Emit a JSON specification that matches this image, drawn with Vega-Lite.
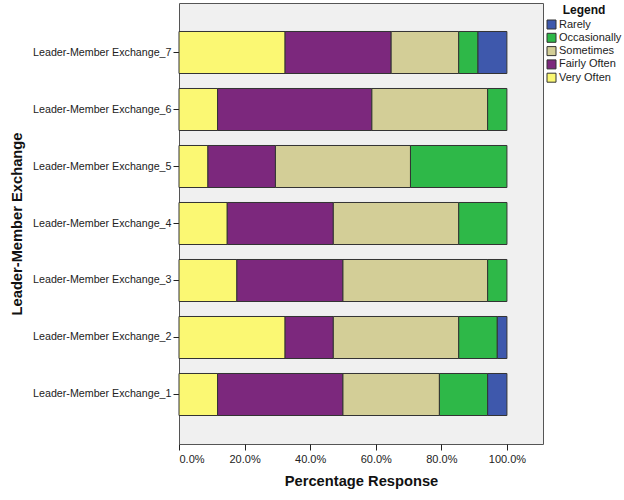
{
  "$schema": "https://vega.github.io/schema/vega-lite/v6.json",
  "autosize": {"type": "none"},
  "width": 364,
  "height": 441,
  "padding": {"left": 179, "top": 3, "right": 81, "bottom": 56},
  "background": "white",
  "config": {
    "font": "Liberation Sans",
    "view": {"fill": "#F0F0F0", "stroke": "#555555", "strokeWidth": 1},
    "axis": {"grid": false, "domainColor": "#555555", "tickColor": "#222222", "labelColor": "#222222", "labelFontSize": 11, "titleFontSize": 14.7, "titleFontWeight": "bold", "titleColor": "#111111", "tickSize": 6},
    "legend": {"padding": 2}
  },
  "data": {
    "values": [
      {"item": "Leader-Member Exchange_7", "response": "Very Often", "code": 5, "pct": 32.35},
      {"item": "Leader-Member Exchange_7", "response": "Fairly Often", "code": 4, "pct": 32.35},
      {"item": "Leader-Member Exchange_7", "response": "Sometimes", "code": 3, "pct": 20.59},
      {"item": "Leader-Member Exchange_7", "response": "Occasionally", "code": 2, "pct": 5.88},
      {"item": "Leader-Member Exchange_7", "response": "Rarely", "code": 1, "pct": 8.82},
      {"item": "Leader-Member Exchange_6", "response": "Very Often", "code": 5, "pct": 11.76},
      {"item": "Leader-Member Exchange_6", "response": "Fairly Often", "code": 4, "pct": 47.06},
      {"item": "Leader-Member Exchange_6", "response": "Sometimes", "code": 3, "pct": 35.29},
      {"item": "Leader-Member Exchange_6", "response": "Occasionally", "code": 2, "pct": 5.88},
      {"item": "Leader-Member Exchange_5", "response": "Very Often", "code": 5, "pct": 8.82},
      {"item": "Leader-Member Exchange_5", "response": "Fairly Often", "code": 4, "pct": 20.59},
      {"item": "Leader-Member Exchange_5", "response": "Sometimes", "code": 3, "pct": 41.18},
      {"item": "Leader-Member Exchange_5", "response": "Occasionally", "code": 2, "pct": 29.41},
      {"item": "Leader-Member Exchange_4", "response": "Very Often", "code": 5, "pct": 14.71},
      {"item": "Leader-Member Exchange_4", "response": "Fairly Often", "code": 4, "pct": 32.35},
      {"item": "Leader-Member Exchange_4", "response": "Sometimes", "code": 3, "pct": 38.24},
      {"item": "Leader-Member Exchange_4", "response": "Occasionally", "code": 2, "pct": 14.71},
      {"item": "Leader-Member Exchange_3", "response": "Very Often", "code": 5, "pct": 17.65},
      {"item": "Leader-Member Exchange_3", "response": "Fairly Often", "code": 4, "pct": 32.35},
      {"item": "Leader-Member Exchange_3", "response": "Sometimes", "code": 3, "pct": 44.12},
      {"item": "Leader-Member Exchange_3", "response": "Occasionally", "code": 2, "pct": 5.88},
      {"item": "Leader-Member Exchange_2", "response": "Very Often", "code": 5, "pct": 32.35},
      {"item": "Leader-Member Exchange_2", "response": "Fairly Often", "code": 4, "pct": 14.71},
      {"item": "Leader-Member Exchange_2", "response": "Sometimes", "code": 3, "pct": 38.24},
      {"item": "Leader-Member Exchange_2", "response": "Occasionally", "code": 2, "pct": 11.76},
      {"item": "Leader-Member Exchange_2", "response": "Rarely", "code": 1, "pct": 2.94},
      {"item": "Leader-Member Exchange_1", "response": "Very Often", "code": 5, "pct": 11.76},
      {"item": "Leader-Member Exchange_1", "response": "Fairly Often", "code": 4, "pct": 38.24},
      {"item": "Leader-Member Exchange_1", "response": "Sometimes", "code": 3, "pct": 29.41},
      {"item": "Leader-Member Exchange_1", "response": "Occasionally", "code": 2, "pct": 14.71},
      {"item": "Leader-Member Exchange_1", "response": "Rarely", "code": 1, "pct": 5.88}
    ]
  },
  "mark": {"type": "bar", "stroke": "#333333", "strokeWidth": 1},
  "encoding": {
    "y": {
      "field": "item", "type": "nominal",
      "sort": ["Leader-Member Exchange_7", "Leader-Member Exchange_6", "Leader-Member Exchange_5", "Leader-Member Exchange_4", "Leader-Member Exchange_3", "Leader-Member Exchange_2", "Leader-Member Exchange_1"],
      "scale": {"paddingInner": 0.263, "paddingOuter": 0.5},
      "axis": {"title": "Leader-Member Exchange", "labelFontSize": 10.7, "labelPadding": 2, "titlePadding": 8, "domain": false}
    },
    "x": {
      "field": "pct", "type": "quantitative", "stack": "zero",
      "scale": {"domain": [0, 111], "nice": false},
      "axis": {"title": "Percentage Response", "values": [0, 20, 40, 60, 80, 100], "labelExpr": "format(datum.value, '.1f') + '%'", "labelPadding": 3, "titlePadding": 9, "domain": false}
    },
    "order": {"field": "code", "sort": "descending"},
    "color": {
      "field": "response", "type": "nominal",
      "scale": {
        "domain": ["Rarely", "Occasionally", "Sometimes", "Fairly Often", "Very Often"],
        "range": ["#3E58AC", "#2EB848", "#D3CE97", "#7C287D", "#FBF873"]
      },
      "legend": {
        "title": "Legend", "orient": "right", "offset": 1,
        "titleFontSize": 12, "titleFontWeight": "bold", "titleColor": "#111111", "titleAnchor": "middle", "titlePadding": 2,
        "labelFontSize": 11, "labelColor": "#222222", "labelOffset": 2,
        "symbolType": "square", "symbolSize": 81, "symbolStrokeColor": "#333333", "symbolStrokeWidth": 1, "symbolOpacity": 1,
        "rowPadding": 0.3
      }
    }
  }
}
